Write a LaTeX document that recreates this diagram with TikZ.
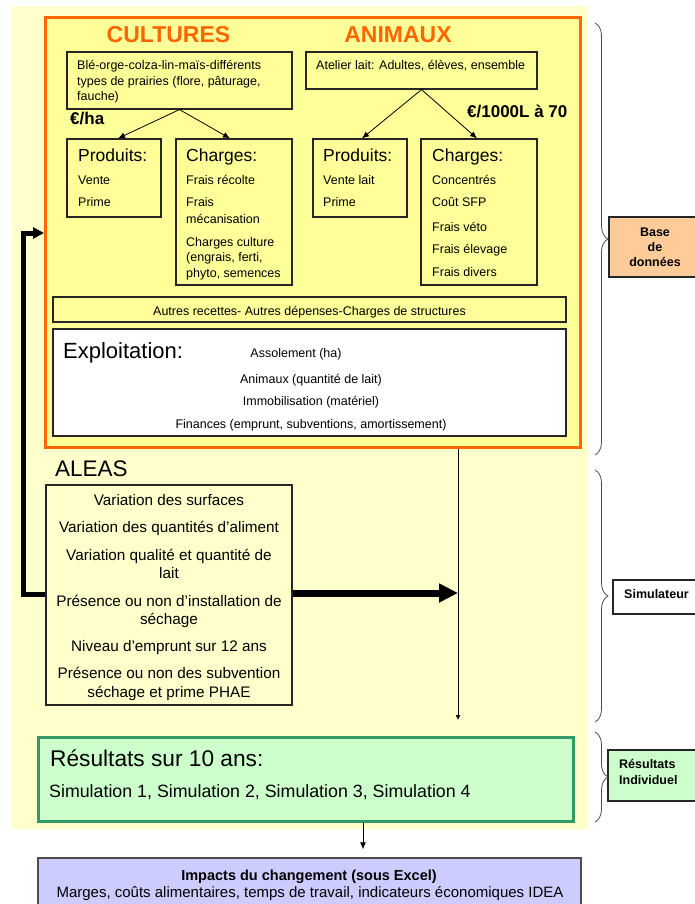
\documentclass[tikz,border=0pt]{standalone}
\usepackage{fontspec}
\setmainfont{Liberation Sans}
\usetikzlibrary{arrows.meta,decorations.pathreplacing,calc}
\definecolor{bgY}{HTML}{FFFFCC}
\definecolor{boxY}{HTML}{FFFF99}
\definecolor{orng}{HTML}{FF6600}
\definecolor{peach}{HTML}{FFCC99}
\definecolor{mint}{HTML}{CCFFCC}
\definecolor{dgreen}{HTML}{339966}
\definecolor{lav}{HTML}{CCCCFF}
\newcommand{\fsz}[1]{\fontsize{#1}{#1}\selectfont}
\newcommand{\mkbox}[6][]{\node[#1, minimum width={#5-#3}, minimum height={#6-#4}] (#2) at ({(#3+#5)/2},{(#4+#6)/2}) {};}
\newcommand{\putt}[5][]{\node[txt,#1] (#2) at (#3,#4) {#5};}
\tikzset{
  rbox/.style={draw=black!85, line width=1.2pt, fill=boxY, inner sep=0pt},
  txt/.style={inner sep=0pt, anchor=base west, text=black, font=\fsz{12.5}},
  big/.style={font=\fsz{17.5}},
  al/.style={anchor=base, font=\fsz{15.3}},
  lab/.style={font=\fsz{12.5}\bfseries},
  arr/.style={line width=0.8pt, -{Latex[length=7pt,width=6pt]}},
  brc/.style={draw=black!70, line width=0.8pt, decorate, decoration={brace, amplitude=13pt}},
}
\begin{document}
\begin{tikzpicture}[x=1pt,y=-1pt]
\useasboundingbox (0,0) rectangle (694,904);
% background and main frame
\mkbox[fill=bgY, draw=none, inner sep=0pt]{bg}{12}{6}{588}{829}
\mkbox[draw=orng, line width=3pt, fill=boxY, inner sep=0pt]{db}{45.5}{17.5}{580.5}{447.5}
% boxes
\mkbox[rbox]{ctop}{67}{52}{292}{109}
\mkbox[rbox]{cprod}{67}{139}{161}{217}
\mkbox[rbox]{cchg}{176}{139}{292}{285}
\mkbox[rbox]{atop}{306}{52}{537}{89}
\mkbox[rbox]{aprod}{313}{139}{407}{217}
\mkbox[rbox]{achg}{421}{139}{537}{285}
\mkbox[rbox]{autres}{53}{297}{566}{322}
\mkbox[rbox, fill=white]{expl}{53}{329}{566}{436}
\mkbox[rbox, fill=bgY]{aleas}{46}{485}{292}{705}
\mkbox[draw=dgreen, line width=3pt, fill=mint, inner sep=0pt]{res}{38.5}{737.5}{573.5}{821.5}
\mkbox[draw=black!70, line width=1.5pt, fill=lav, inner sep=0pt]{imp}{38}{858}{581}{915}
\mkbox[rbox, fill=peach]{bdd}{609}{217}{700}{277}
\mkbox[rbox, fill=white]{sim}{613}{580}{700}{614}
\mkbox[rbox, fill=mint]{rind}{608}{750}{700}{801}
% titles
\putt[anchor=base, text=orng, font=\fsz{23}\bfseries]{tcult}{168.5}{43}{CULTURES}
\putt[anchor=base, text=orng, font=\fsz{23}\bfseries]{tanim}{398}{43}{ANIMAUX}
% cultures
\putt{c1}{77}{70}{Blé-orge-colza-lin-maïs-différents}
\putt{c2}{77}{86}{types de prairies (flore, pâturage,}
\putt{c3}{77}{101}{fauche)}
\putt[font=\fsz{17}\bfseries]{eha}{70}{125}{€/ha}
\putt[big]{cp0}{78}{162}{Produits:}
\putt{cp1}{78}{185}{Vente}
\putt{cp2}{78}{207}{Prime}
\putt[big]{cc0}{186}{162}{Charges:}
\putt{cc1}{186}{185}{Frais récolte}
\putt{cc2}{186}{207}{Frais}
\putt{cc3}{186}{223}{mécanisation}
\putt{cc4}{186}{246}{Charges culture}
\putt{cc5}{186}{261}{(engrais, ferti,}
\putt{cc6}{186}{277}{phyto, semences}
% animaux
\putt{a1}{316}{70}{Atelier lait: Adultes, élèves, ensemble}
\putt[font=\fsz{17}\bfseries]{e1000}{467}{118}{€/1000L à 70}
\putt[big]{ap0}{323}{162}{Produits:}
\putt{ap1}{323}{185}{Vente lait}
\putt{ap2}{323}{207}{Prime}
\putt[big]{ac0}{432}{162}{Charges:}
\putt{ac1}{432}{185}{Concentrés}
\putt{ac2}{432}{207}{Coût SFP}
\putt{ac3}{432}{231}{Frais véto}
\putt{ac4}{432}{253}{Frais élevage}
\putt{ac5}{432}{276}{Frais divers}
% tree arrows
\draw[arr] (ctop.south) -- ($(cprod.north)+(4,0)$);
\draw[arr] (ctop.south) -- ($(cchg.north)+(-4,0)$);
\draw[arr] (atop.south) -- ($(aprod.north)+(2,0)$);
\draw[arr] (atop.south) -- ($(achg.north)+(-2,0)$);
% autres & exploitation
\putt[anchor=base]{au}{309.5}{315}{Autres recettes- Autres dépenses-Charges de structures}
\putt[font=\fsz{22}]{ex0}{63}{358}{Exploitation:}
\putt[anchor=base]{ex1}{296}{357}{Assolement (ha)}
\putt[anchor=base]{ex2}{311}{383}{Animaux (quantité de lait)}
\putt[anchor=base]{ex3}{311}{405}{Immobilisation (matériel)}
\putt[anchor=base]{ex4}{311}{428}{Finances (emprunt, subventions, amortissement)}
% aleas
\putt[font=\fsz{22.5}]{tal}{55}{476}{ALEAS}
\putt[al]{l1}{169}{505}{Variation des surfaces}
\putt[al]{l2}{169}{532}{Variation des quantités d’aliment}
\putt[al]{l3}{169}{560}{Variation qualité et quantité de}
\putt[al]{l4}{169}{578}{lait}
\putt[al]{l5}{169}{606}{Présence ou non d’installation de}
\putt[al]{l6}{169}{624}{séchage}
\putt[al]{l7}{169}{651}{Niveau d’emprunt sur 12 ans}
\putt[al]{l8}{169}{678}{Présence ou non des subvention}
\putt[al]{l9}{169}{697}{séchage et prime PHAE}
% results
\putt[font=\fsz{22.7}]{r0}{50}{766}{Résultats sur 10 ans:}
\putt[font=\fsz{17.8}]{r1}{49}{797}{Simulation 1, Simulation 2, Simulation 3, Simulation 4}
% impacts
\putt[anchor=base, font=\fsz{14.5}\bfseries]{i0}{309}{880}{Impacts du changement (sous Excel)}
\putt[anchor=base, font=\fsz{15}]{i1}{310}{897}{Marges, coûts alimentaires, temps de travail, indicateurs économiques IDEA}
% side labels
\putt[anchor=base, lab]{b1}{655}{236}{Base}
\putt[anchor=base, lab]{b2}{655}{251}{de}
\putt[anchor=base, lab]{b3}{655}{266}{données}
\putt[lab]{s1}{624}{598}{Simulateur}
\putt[lab]{ri1}{619}{768}{Résultats}
\putt[lab]{ri2}{619}{784}{Individuel}
% connectors
\coordinate (vend) at (458,720);
\coordinate (vjoin) at (458,593);
\draw[arr, line width=0.7pt, -{Latex[length=5pt,width=5pt]}] (db.south -| vend) -- (vend);
\draw[line width=7pt, -{Triangle[length=19pt,width=18pt]}] (aleas.east |- vjoin) -- (vjoin);
\coordinate (fb1) at (23,594);
\coordinate (fb2) at (23,233);
\draw[line width=5pt, line join=miter, -{Triangle[length=11pt,width=11pt]}] (aleas.west |- fb1) -- (fb1) -- (fb2) -- (db.west |- fb2);
\coordinate (rx) at (363,0);
\draw[arr, shorten >=8pt] (res.south -| rx) -- (imp.north -| rx);
% braces
\draw[brc] (595,23) -- (595,455);
\draw[brc] (595,470) -- (595,722);
\draw[brc] (595,732) -- (595,822);
\end{tikzpicture}
\end{document}
